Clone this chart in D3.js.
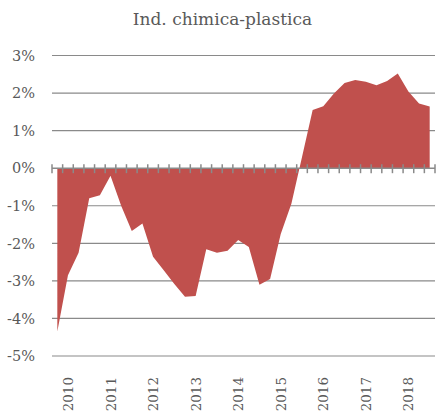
<!DOCTYPE html>
<html>
<head>
<meta charset="utf-8">
<script src="https://cdn.jsdelivr.net/npm/d3@7"></script>
<style>
  body { margin: 0; background: #fff; }
  svg { display: block; }
</style>
</head>
<body>
<div id="chart"></div>
<script>
var width = 441;
var height = 418;

// quarters 2009Q4 .. 2018Q3
var quarters = [];
for (var yr = 2009; yr <= 2018; yr++) {
  for (var q = 1; q <= 4; q++) {
    if ((yr === 2009 && q < 4) || (yr === 2018 && q > 3)) continue;
    quarters.push(yr + "Q" + q);
  }
}
var values = [
  -4.35, -2.85, -2.25, -0.8, -0.72, -0.2, -1.0, -1.67, -1.47,
  -2.36, -2.72, -3.08, -3.42, -3.4, -2.16, -2.25, -2.2, -1.91,
  -2.1, -3.1, -2.95, -1.75, -0.95, 0.3, 1.55, 1.65, 1.99,
  2.27, 2.35, 2.3, 2.21, 2.32, 2.52, 2.04, 1.72, 1.64
];
var yearLabels = ["2010", "2011", "2012", "2013", "2014", "2015", "2016", "2017", "2018"];
var yTicks = [3, 2, 1, 0, -1, -2, -3, -4, -5];
var title = "Ind. chimica-plastica";

var data = quarters.map((c, i) => ({ q: c, v: values[i] }));

var x = d3.scaleBand().domain(quarters).range([52, 435]).padding(0);
var y = d3.scaleLinear().domain([-5, 3]).range([356, 55.5]);
var cx = d => x(d) + x.bandwidth() / 2;

var svg = d3.select('#chart').append('svg')
  .attr('width', width)
  .attr('height', height);

var textColor = '#595959';
var lineColor = '#8a8a8a';

svg.append('text')
  .attr('x', 222.5)
  .attr('y', 25)
  .attr('text-anchor', 'middle')
  .attr('font-family', 'DejaVu Serif')
  .attr('font-size', 17)
  .attr('fill', textColor)
  .text(title);

// gridlines
svg.append('g')
  .selectAll('line')
  .data(yTicks.filter(d => d !== 0))
  .join('line')
    .attr('x1', 52)
    .attr('x2', 435)
    .attr('y1', d => y(d))
    .attr('y2', d => y(d))
    .attr('stroke', lineColor)
    .attr('stroke-width', 1.2);

// y labels
svg.append('g')
  .selectAll('text')
  .data(yTicks)
  .join('text')
    .attr('x', 35)
    .attr('y', d => y(d))
    .attr('dy', '0.36em')
    .attr('text-anchor', 'end')
    .attr('font-family', 'DejaVu Serif')
    .attr('font-size', 14.5)
    .attr('fill', textColor)
    .text(d => d + '%');

// area
var area = d3.area()
  .x(d => cx(d.q))
  .y0(y(0))
  .y1(d => y(d.v));

svg.append('path')
  .datum(data)
  .attr('d', area)
  .attr('fill', '#C0504D');

// zero axis with ticks at category boundaries
var bounds = quarters.map(c => x(c)).concat([x.range()[1]]);
var axis = svg.append('g');
axis.append('line')
  .attr('x1', 52)
  .attr('x2', 435)
  .attr('y1', y(0))
  .attr('y2', y(0))
  .attr('stroke', lineColor)
  .attr('stroke-width', 1.5);
axis.selectAll('.tick')
  .data(bounds)
  .join('line')
    .attr('class', 'tick')
    .attr('x1', d => d)
    .attr('x2', d => d)
    .attr('y1', y(0) - 4)
    .attr('y2', y(0) + 5)
    .attr('stroke', lineColor)
    .attr('stroke-width', 1.5);

// year labels at Q1 of each year
svg.append('g')
  .selectAll('text')
  .data(yearLabels)
  .join('text')
    .attr('transform', d => `translate(${cx(d + 'Q1') + 5},377) rotate(-90)`)
    .attr('text-anchor', 'end')
    .attr('font-family', 'DejaVu Serif')
    .attr('font-size', 13.5)
    .attr('fill', textColor)
    .text(d => d);
</script>
</body>
</html>
